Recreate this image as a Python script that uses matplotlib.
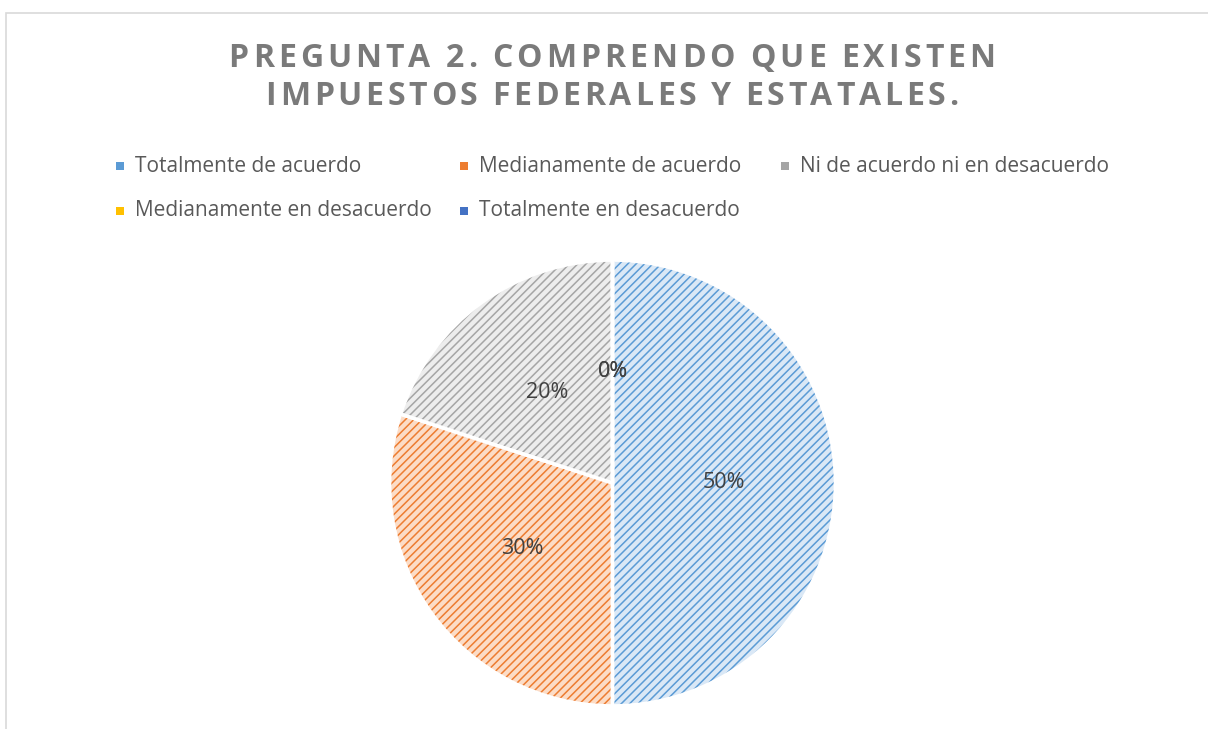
import matplotlib
matplotlib.use("Agg")
import matplotlib.pyplot as plt
from matplotlib.patches import Rectangle

# ---- data ----
categories = ["Totalmente de acuerdo", "Medianamente de acuerdo",
              "Ni de acuerdo ni en desacuerdo", "Medianamente en desacuerdo",
              "Totalmente en desacuerdo"]
values = [50, 30, 20, 0, 0]
title_lines = ["PREGUNTA 2. COMPRENDO QUE EXISTEN", "IMPUESTOS FEDERALES Y ESTATALES."]

# ---- style ----
hatch_colors = ["#5b9bd5", "#ed7d31", "#a5a5a5", "#ffc000", "#4472c4"]
face_colors = ["#dae8f6", "#fcdcc6", "#ededed", "#fff2cc", "#dae3f3"]

W, H = 1208, 729
plt.rcParams['hatch.linewidth'] = 1.1
fig = plt.figure(figsize=(W / 100, H / 100), dpi=100)
fig.patch.set_facecolor("white")

# chart border
fig.patches.append(Rectangle((5.5 / W, -0.02), 1.05, 1 - 12.5 / H + 0.02,
                             transform=fig.transFigure, fill=False,
                             edgecolor="#d9d9d9", linewidth=1.2))

# ---- pie ----
cx, cy, r = 612.5, 483, 224
ax = fig.add_axes([(cx - r) / W, (H - cy - r) / H, 2 * r / W, 2 * r / H])
wedges, texts, autotexts = ax.pie(
    values, startangle=90, counterclock=False, colors=face_colors,
    autopct='%1.0f%%', pctdistance=0.5, radius=1,
    wedgeprops=dict(linewidth=0),
    textprops=dict(color="#404040", fontsize=15.5, family="Open Sans"))
for w, hc in zip(wedges, hatch_colors):
    w.set_hatch("////")
    w.set_edgecolor(hc)
# white separators
ax.pie(values, startangle=90, counterclock=False, radius=1,
       colors=["none"] * len(values),
       wedgeprops=dict(linewidth=2.5, edgecolor="white", fill=False))
ax.set_xlim(-1.005, 1.005)
ax.set_ylim(-1.005, 1.005)
ax.set_aspect("equal")
ax.axis("off")

# ---- title with letter spacing ----
fig.canvas.draw()
renderer = fig.canvas.get_renderer()
title_kw = dict(fontsize=23, fontweight="bold", family="Open Sans", color="#7a7a7a")
baselines = [67, 105]
target_widths = [767, 693]
for line, base, tw in zip(title_lines, baselines, target_widths):
    chars = []
    widths = []
    for ch in line:
        t = fig.text(0, 0, ch if ch != " " else "\u00a0", **title_kw)
        bb = t.get_window_extent(renderer)
        w = bb.width if ch != " " else 7.0
        widths.append(w)
        chars.append(t)
    natural = sum(widths)
    spacing = (tw - natural) / (len(line) - 1)
    total = natural + spacing * (len(line) - 1)
    x = 612 - total / 2
    for t, w in zip(chars, widths):
        t.set_position((x / W, 1 - base / H))
        t.set_va("baseline")
        x += w + spacing

# ---- legend (manual, Excel style) ----
leg_pos = [(120, 166), (464, 166), (785, 166), (120, 211), (464, 211)]
sq = 8
for (lx, ly), lab, hc, fc in zip(leg_pos, categories, hatch_colors, face_colors):
    fig.patches.append(Rectangle(((lx - sq / 2) / W, (H - ly - sq / 2) / H), sq / W, sq / H,
                                 transform=fig.transFigure, facecolor=hc,
                                 edgecolor="none"))
    fig.text((lx + 15) / W, 1 - ly / H, lab, fontsize=15, family="Open Sans",
             color="#595959", va="center", ha="left")

fig.savefig("out.png", dpi=100)
